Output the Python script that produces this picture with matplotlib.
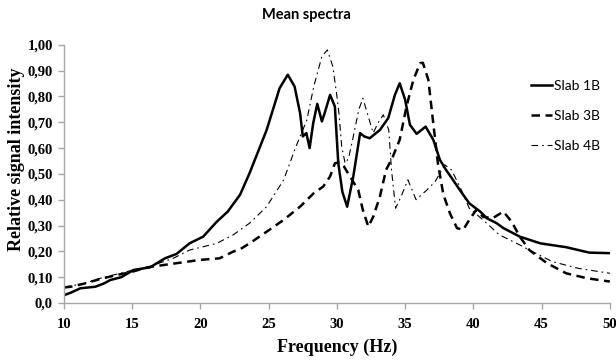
import matplotlib
matplotlib.use("Agg")
import matplotlib.pyplot as plt
from matplotlib.ticker import FixedLocator, FixedFormatter

# values (frequency in Hz, relative intensity)
freq_1b = [10.0, 10.5, 11.2, 12.3, 12.9, 13.4, 14.2, 15.1, 16.3, 17.4, 18.25,
           19.2, 20.2, 21.2, 22.0, 22.9, 23.6, 24.85, 25.8, 26.4, 26.9, 27.3,
           27.5, 27.76, 28.0, 28.26, 28.56, 28.9, 29.1, 29.5, 29.85, 30.1,
           30.4, 30.75, 31.2, 31.7, 32.0, 32.4, 33.15, 33.76, 34.25, 34.6,
           35.0, 35.35, 35.84, 36.5, 37.06, 37.55, 38.0, 38.5, 39.0, 39.7,
           40.5, 41.0, 41.7, 42.2, 43.4, 44.9, 46.8, 48.5, 50.0]
int_1b = [0.030, 0.040, 0.057, 0.063, 0.075, 0.089, 0.100, 0.128, 0.138, 0.173,
          0.190, 0.231, 0.257, 0.315, 0.354, 0.419, 0.503, 0.670, 0.832, 0.884,
          0.838, 0.735, 0.645, 0.658, 0.600, 0.696, 0.771, 0.703, 0.735, 0.806,
          0.761, 0.541, 0.430, 0.373, 0.490, 0.658, 0.645, 0.638, 0.670, 0.716,
          0.806, 0.851, 0.787, 0.690, 0.655, 0.683, 0.632, 0.554, 0.515, 0.477,
          0.438, 0.386, 0.354, 0.328, 0.309, 0.290, 0.257, 0.231, 0.216, 0.195,
          0.193]

freq_3b = [10.0, 10.5, 11.4, 12.6, 13.9, 14.8, 16.1, 17.3, 18.5, 20.0, 21.4,
           22.4, 22.9, 23.6, 24.85, 26.1, 27.3, 28.3, 29.0, 29.5, 29.85, 30.2,
           30.5, 30.95, 31.56, 31.9, 32.3, 32.66, 33.15, 33.6, 34.1, 34.6,
           35.1, 35.6, 36.1, 36.3, 36.7, 37.06, 37.4, 37.8, 38.3, 38.8, 39.25,
           39.7, 40.2, 40.7, 41.4, 42.2, 42.8, 43.4, 44.1, 45.4, 46.8, 48.3,
           50.0]
int_3b = [0.060, 0.063, 0.074, 0.092, 0.109, 0.118, 0.138, 0.147, 0.156, 0.167,
          0.173, 0.199, 0.208, 0.231, 0.276, 0.322, 0.373, 0.425, 0.451, 0.490,
          0.541, 0.545, 0.530, 0.490, 0.438, 0.360, 0.296, 0.334, 0.412, 0.515,
          0.567, 0.632, 0.761, 0.864, 0.929, 0.930, 0.864, 0.696, 0.541, 0.420,
          0.345, 0.290, 0.283, 0.322, 0.360, 0.334, 0.328, 0.354, 0.315, 0.257,
          0.205, 0.154, 0.115, 0.096, 0.083]

freq_4b = [10.0, 11.4, 12.6, 13.9, 15.1, 16.3, 17.0, 18.0, 19.2, 20.2, 21.2,
           22.4, 23.6, 24.85, 26.1, 27.0, 27.8, 28.3, 28.9, 29.3, 29.7, 30.0,
           30.15, 30.35, 30.6, 30.85, 31.2, 31.6, 31.9, 32.3, 32.66, 33.0,
           33.4, 33.8, 34.0, 34.3, 34.7, 35.2, 35.8, 36.6, 37.2, 37.9, 38.4,
           39.0, 39.7, 40.7, 41.9, 43.4, 44.1, 45.8, 47.7, 50.0]
int_4b = [0.062, 0.074, 0.095, 0.112, 0.128, 0.138, 0.155, 0.173, 0.205, 0.218,
          0.231, 0.264, 0.309, 0.373, 0.477, 0.606, 0.709, 0.838, 0.955, 0.980,
          0.916, 0.800, 0.735, 0.606, 0.541, 0.560, 0.645, 0.748, 0.793, 0.722,
          0.658, 0.696, 0.729, 0.670, 0.515, 0.367, 0.412, 0.477, 0.400, 0.438,
          0.470, 0.535, 0.515, 0.451, 0.367, 0.322, 0.264, 0.225, 0.205, 0.160,
          0.134, 0.115]

x_ticks = [10, 15, 20, 25, 30, 35, 40, 45, 50]
y_ticks = [0.0, 0.1, 0.2, 0.3, 0.4, 0.5, 0.6, 0.7, 0.8, 0.9, 1.0]
y_tick_labels = ["0,0", "0,10", "0,20", "0,30", "0,40", "0,50", "0,60",
                 "0,70", "0,80", "0,90", "1,00"]

SERIF = ["Liberation Serif", "DejaVu Serif"]
SANS = ["Lato", "Open Sans", "DejaVu Sans"]
AXIS_GRAY = "#a6a6a6"

fig = plt.figure(figsize=(6.16, 3.61), dpi=100)
ax = fig.add_axes([0.1039, 0.1607, 0.8861, 0.7153])

ax.plot(freq_1b, int_1b, color="black", lw=1.8, solid_joinstyle="round",
        label="Slab 1B")
ax.plot(freq_3b, int_3b, color="black", lw=1.8, linestyle=(0, (3.4, 2.2)),
        label="Slab 3B")
ax.plot(freq_4b, int_4b, color="black", lw=0.8,
        linestyle=(0, (6, 3.5, 1.5, 3.5)), label="Slab 4B")

ax.set_xlim(10, 50)
ax.set_ylim(0, 1.0)
ax.xaxis.set_major_locator(FixedLocator(x_ticks))
ax.yaxis.set_major_locator(FixedLocator(y_ticks))
ax.yaxis.set_major_formatter(FixedFormatter(y_tick_labels))

for side in ("top", "right"):
    ax.spines[side].set_visible(False)
for side in ("left", "bottom"):
    ax.spines[side].set_color(AXIS_GRAY)
    ax.spines[side].set_linewidth(1.0)

ax.tick_params(axis="both", colors=AXIS_GRAY, length=4, width=1.0,
               labelcolor="black")
ax.tick_params(axis="x", pad=7)
ax.tick_params(axis="y", pad=4)
for lbl in ax.get_xticklabels() + ax.get_yticklabels():
    lbl.set_family(SERIF)
    lbl.set_fontweight("bold")
    lbl.set_fontsize(10.5)

ax.set_xlabel("Frequency (Hz)", family=SERIF, fontweight="bold", fontsize=13)
ax.xaxis.set_label_coords(0.5, -0.14)
ax.set_ylabel("Relative signal intensity", family=SERIF, fontweight="bold",
              fontsize=13)
ax.yaxis.set_label_coords(-0.072, 0.555)

fig.text(0.497, 0.958, "Mean spectra", family=SANS, fontweight="bold",
         fontsize=10.5, ha="center", va="center")

leg = ax.legend(loc="upper left", bbox_to_anchor=(0.845, 0.885), frameon=False,
                prop={"family": SANS, "size": 10}, handlelength=1.5,
                handletextpad=0.15, labelspacing=1.3, borderaxespad=0)

fig.savefig("out.png", dpi=100)
